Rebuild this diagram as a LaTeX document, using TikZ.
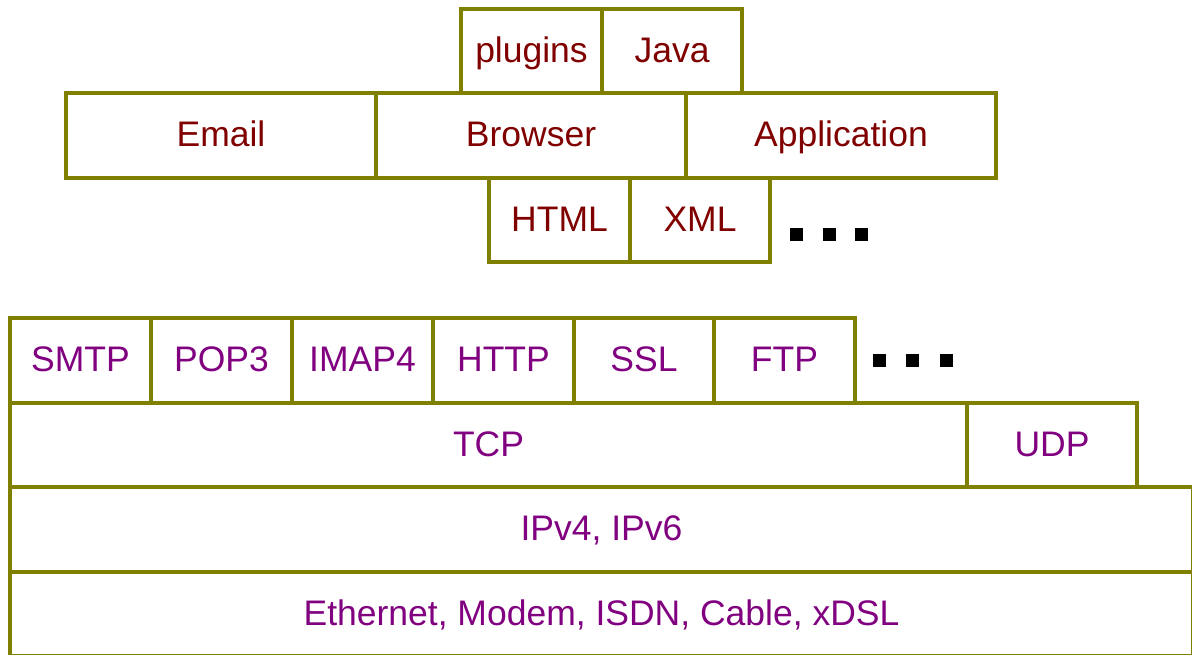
\documentclass[tikz,border=0pt]{standalone}
\usepackage{fontspec}
\setmainfont{Liberation Sans}
\definecolor{olivec}{RGB}{128,128,0}
\definecolor{redtext}{RGB}{128,0,0}
\definecolor{purptext}{RGB}{128,0,128}
\begin{document}
\begin{tikzpicture}[x=1pt,y=-1pt,
  box/.style={draw=olivec, line width=4pt, inner sep=0pt, minimum height=84.5pt,
    text height=26pt, text depth=4pt,
    font=\fontsize{35.5}{42}\selectfont},
  upper/.style={box, text=redtext},
  lower/.style={box, text=purptext},
  dot/.style={fill=black, inner sep=0pt, minimum size=13pt}]
\useasboundingbox (0,0) rectangle (1192,654);
\clip (0,0) rectangle (1192,654);
% top application layer
\node[upper, minimum width=141pt] (plugins) at (531.5,51) {plugins};
\node[upper, minimum width=140pt] (java) at (672,51) {Java};
\node[upper, minimum width=310pt] (email) at (221,135.5) {Email};
\node[upper, minimum width=310pt] (browser) at (531,135.5) {Browser};
\node[upper, minimum width=310pt] (app) at (841,135.5) {Application};
\node[upper, minimum width=141pt] (html) at (559.5,220) {HTML};
\node[upper, minimum width=140pt] (xml) at (700,220) {XML};
\node[dot] (d1) at (796,234.5) {};
\node[dot] (d2) at (829,234.5) {};
\node[dot] (d3) at (861.5,234.5) {};
% protocol stack
\node[lower, minimum width=141pt] (smtp) at (80.5,360.5) {SMTP};
\node[lower, minimum width=141pt] (pop) at (221.5,360.5) {POP3};
\node[lower, minimum width=141pt] (imap) at (362.5,360.5) {IMAP4};
\node[lower, minimum width=141pt] (http) at (503.5,360.5) {HTTP};
\node[lower, minimum width=140pt] (ssl) at (644,360.5) {SSL};
\node[lower, minimum width=141pt] (ftp) at (784.5,360.5) {FTP};
\node[dot] (d4) at (879.5,360.5) {};
\node[dot] (d5) at (912.5,360.5) {};
\node[dot] (d6) at (946.5,360.5) {};
\node[lower, minimum width=957pt] (tcp) at (488.5,445) {TCP};
\node[lower, minimum width=170pt] (udp) at (1052,445) {UDP};
\node[lower, minimum width=1183pt] (ip) at (601.5,529.5) {IPv4, IPv6};
\node[lower, minimum width=1183pt] (link) at (601.5,614) {Ethernet, Modem, ISDN, Cable, xDSL};
\end{tikzpicture}
\end{document}
